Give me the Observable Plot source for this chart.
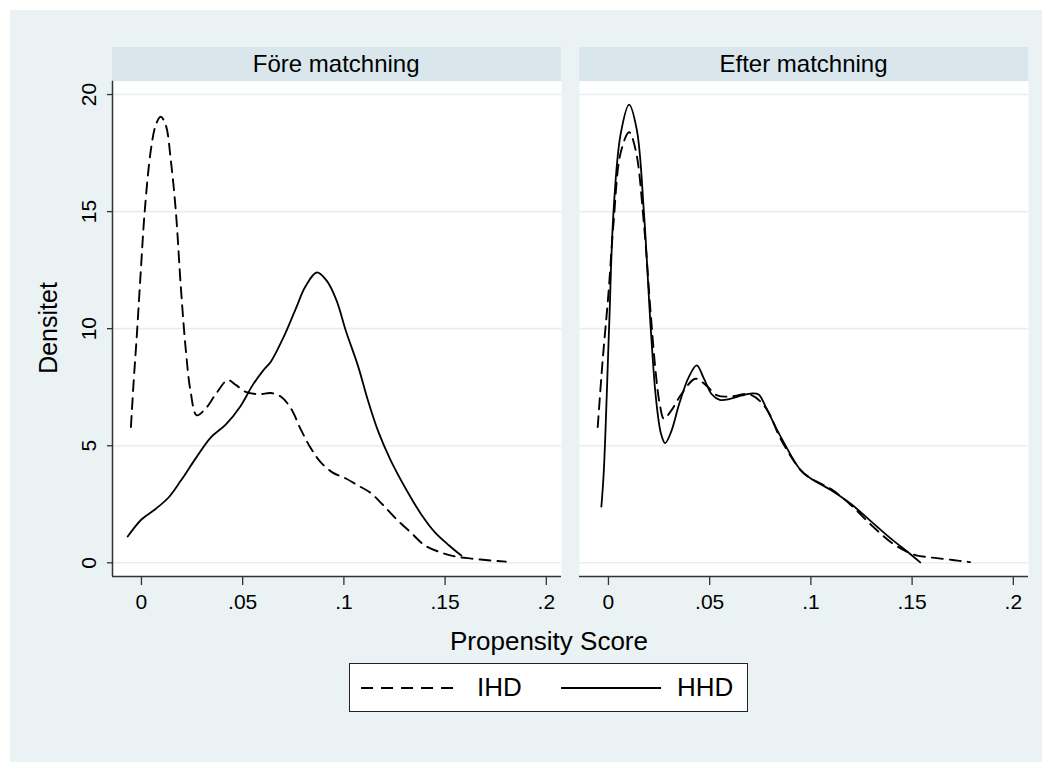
<!DOCTYPE html>
<html><head><meta charset="utf-8">
<script src="https://cdn.jsdelivr.net/npm/d3@7"></script>
<script src="https://cdn.jsdelivr.net/npm/@observablehq/plot@0.6"></script>
<style>
body{margin:0;background:#fff;}
#wrap{position:relative;width:1052px;height:772px;overflow:hidden;font-family:"Liberation Sans",Arial,Helvetica,sans-serif;color:#000;}
#bg{position:absolute;left:10px;top:10px;width:1032px;height:752px;background:#eaf2f3;}
.hdr{position:absolute;top:47px;height:34px;width:449px;background:#d9e6eb;text-align:center;line-height:34px;font-size:24px;}
#chart{position:absolute;left:0;top:0;}
#ylab{position:absolute;left:48px;top:328px;transform:translate(-50%,-50%) rotate(-90deg);font-size:25px;white-space:nowrap;}
#xlab{position:absolute;left:549px;top:641px;transform:translate(-50%,-50%);font-size:26px;white-space:nowrap;}
#legend{position:absolute;left:349px;top:663px;width:397px;height:47px;background:#fff;border:1.3px solid #222;}
#legend svg{position:absolute;left:0;top:0;}
.lt{position:absolute;top:0;line-height:47px;font-size:26px;}
</style></head>
<body><div id="wrap"><div id="bg"></div></div>
<script>
const panels = ["Före matchning", "Efter matchning"];
const seriesNames = ["IHD", "HHD"];
const xTicks = [0, 0.05, 0.1, 0.15, 0.2];
const xTickLabels = ["0", ".05", ".1", ".15", ".2"];
const yTicks = [0, 5, 10, 15, 20];
const xLabel = "Propensity Score";
const yLabel = "Densitet";

// Före matchning – IHD (dashed)
const foreIHD = [[-0.0052,5.8],[-0.0038,7.8],[-0.0023,9.7],[-0.0003,12.5],[0.0016,15.0],[0.0046,17.6],[0.0071,18.7],[0.0095,19.05],[0.012,18.7],[0.0145,17.2],[0.017,15.0],[0.0194,11.85],[0.0219,9.1],[0.0243,7.3],[0.0273,6.3],[0.0318,6.6],[0.0367,7.2],[0.0426,7.8],[0.0466,7.6],[0.0515,7.3],[0.058,7.2],[0.064,7.25],[0.0688,7.1],[0.0738,6.6],[0.0787,5.7],[0.0836,4.9],[0.0885,4.3],[0.0945,3.85],[0.101,3.6],[0.107,3.3],[0.113,3.0],[0.119,2.5],[0.1255,1.9],[0.133,1.3],[0.14,0.74],[0.148,0.44],[0.155,0.27],[0.163,0.18],[0.1725,0.1],[0.18,0.05]];
// Före matchning – HHD (solid)
const foreHHD = [[-0.0068,1.12],[0.0,1.85],[0.007,2.3],[0.0135,2.8],[0.0194,3.5],[0.0268,4.46],[0.0342,5.35],[0.0416,5.9],[0.049,6.7],[0.055,7.6],[0.06,8.2],[0.064,8.6],[0.07,9.6],[0.076,10.8],[0.081,11.8],[0.0866,12.4],[0.0915,12.05],[0.0964,11.2],[0.101,9.9],[0.107,8.4],[0.112,6.9],[0.117,5.6],[0.123,4.4],[0.131,3.1],[0.138,2.1],[0.145,1.3],[0.152,0.74],[0.158,0.31]];
// Efter matchning – IHD (dashed)
const efterIHD = [[-0.0053,5.8],[-0.003,8.5],[0.0,11.5],[0.0025,14.5],[0.006,17.5],[0.0102,18.39],[0.0135,17.6],[0.0175,14.5],[0.021,10.5],[0.0235,8.0],[0.0255,6.7],[0.0274,6.15],[0.031,6.5],[0.036,7.2],[0.043,7.86],[0.048,7.6],[0.0537,7.15],[0.06,7.1],[0.07,7.19],[0.078,6.58],[0.085,5.3],[0.0948,3.97],[0.1,3.6],[0.11,3.15],[0.12,2.45],[0.13,1.6],[0.14,0.85],[0.148,0.45],[0.152,0.32],[0.16,0.22],[0.17,0.12],[0.1786,0.03]];
// Efter matchning – HHD (solid)
const efterHHD = [[-0.0035,2.4],[-0.0023,3.9],[0.0003,10.0],[0.0025,15.0],[0.006,18.3],[0.0102,19.57],[0.014,18.5],[0.0175,15.0],[0.0209,10.0],[0.0235,7.0],[0.026,5.5],[0.028,5.11],[0.031,5.6],[0.035,6.8],[0.0395,7.9],[0.0436,8.43],[0.047,7.9],[0.051,7.2],[0.055,6.96],[0.06,7.0],[0.066,7.15],[0.071,7.24],[0.0742,7.19],[0.078,6.6],[0.085,5.4],[0.0948,3.97],[0.1,3.6],[0.11,3.1],[0.12,2.5],[0.13,1.75],[0.14,1.0],[0.148,0.45],[0.154,0.02]];

const xDomain = [-0.0143, 0.2075];
const yDomain = [-0.585, 20.57];

const toRows = (arr, panel, series) => arr.map(([x, y]) => ({panel, series, x, y}));
const rows = [
  ...toRows(foreIHD, panels[0], seriesNames[0]),
  ...toRows(foreHHD, panels[0], seriesNames[1]),
  ...toRows(efterIHD, panels[1], seriesNames[0]),
  ...toRows(efterHHD, panels[1], seriesNames[1])
];
const FONT = '"Liberation Sans", Arial, Helvetica, sans-serif';
const chart = Plot.plot({
  width: 1052, height: 772,
  marginLeft: 111.7, marginRight: 23.7, marginTop: 80.7, marginBottom: 196,
  style: {background: "transparent", fontFamily: FONT, fontSize: "21px", color: "#000"},
  fx: {domain: panels, padding: 0.0385, axis: null, label: null},
  x: {domain: xDomain},
  y: {domain: yDomain},
  marks: [
    Plot.frame({fill: "#fff", stroke: null}),
    Plot.gridY(yTicks, {stroke: "#e6eef1", strokeOpacity: 1, strokeWidth: 1.6}),
    Plot.axisX(xTicks, {tickFormat: (d, i) => xTickLabels[i], tickSize: 9, tickPadding: 9, fontSize: 21, label: null, stroke: "#333", strokeWidth: 1.3}),
    Plot.axisY(yTicks, {tickRotate: -90, tickSize: 5, tickPadding: 12, fontSize: 21, label: null, stroke: "#333", strokeWidth: 1.3}),
    Plot.ruleY(panels, {fx: d => d, y: () => yDomain[0], stroke: "#333", strokeWidth: 1.5}),
    Plot.ruleX([panels[0]], {fx: d => d, x: () => xDomain[0], stroke: "#333", strokeWidth: 1.5}),
    Plot.line(rows.filter(d => d.series === seriesNames[1]), {x: "x", y: "y", fx: "panel", curve: "catmull-rom", stroke: "#000", strokeWidth: 1.8}),
    Plot.line(rows.filter(d => d.series === seriesNames[0]), {x: "x", y: "y", fx: "panel", curve: "catmull-rom", stroke: "#000", strokeWidth: 1.9, strokeDasharray: "11,7"})
  ]
});
const wrap = document.getElementById("wrap");
// headers
[[panels[0], 111.7], [panels[1], 579]].forEach(([t, left]) => {
  const h = document.createElement("div");
  h.className = "hdr"; h.style.left = left + "px"; h.textContent = t;
  wrap.appendChild(h);
});
chart.id = "chart";
wrap.appendChild(chart);
const yl = document.createElement("div"); yl.id = "ylab"; yl.textContent = yLabel; wrap.appendChild(yl);
const xl = document.createElement("div"); xl.id = "xlab"; xl.textContent = xLabel; wrap.appendChild(xl);
const lg = document.createElement("div"); lg.id = "legend";
lg.innerHTML = `<svg width="397" height="47">
  <line x1="11" x2="107" y1="24" y2="24" stroke="#000" stroke-width="2" stroke-dasharray="12,8"/>
  <line x1="211" x2="311" y1="24" y2="24" stroke="#000" stroke-width="2"/>
</svg><span class="lt" style="left:127px">${seriesNames[0]}</span><span class="lt" style="left:327px">${seriesNames[1]}</span>`;
wrap.appendChild(lg);
</script>
</body></html>
